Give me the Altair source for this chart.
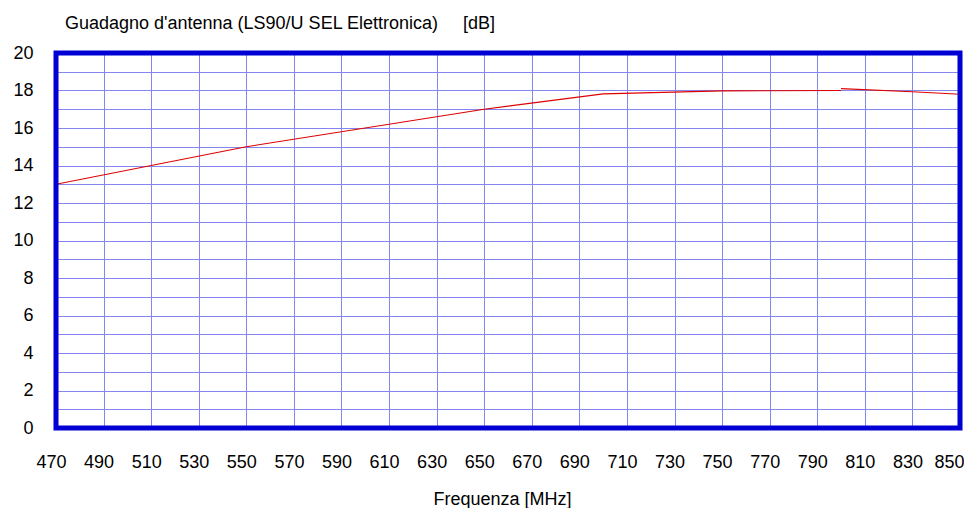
import altair as alt
import pandas as pd

# Series 1 (up to 800 MHz) and series 2 (800-850 MHz)
freq_a = [470, 550, 650, 700, 750, 800]
gain_a = [13.0, 15.0, 17.0, 17.82, 17.98, 18.0]
freq_b = [800, 830, 850]
gain_b = [18.1, 17.93, 17.8]

x_ticks = list(range(470, 851, 20))
y_ticks = list(range(0, 21))
x_domain = [470, 850]
y_domain = [0, 20]

title_main = "Guadagno d'antenna (LS90/U SEL Elettronica)"
title_unit = "[dB]"
x_title = "Frequenza  [MHz]"

FONT = "Liberation Sans"
GRID = "#8585f0"
BORDER = "#0000d4"

df = pd.DataFrame({
    "f": freq_a + freq_b,
    "g": gain_a + gain_b,
    "s": ["a"] * len(freq_a) + ["b"] * len(freq_b),
})
frame_df = pd.DataFrame({
    "f": [x_domain[0]], "f2": [x_domain[1]],
    "g": [y_domain[0]], "g2": [y_domain[1]],
})

x_scale = alt.Scale(domain=x_domain, nice=False, zero=False)
y_scale = alt.Scale(domain=y_domain, nice=False, zero=True)

x_axis = alt.Axis(
    values=x_ticks, grid=True, gridColor=GRID, gridWidth=1, gridOpacity=1,
    domain=False, ticks=False, tickSize=0,
    labelFont=FONT, labelFontSize=18, labelColor="black", labelPadding=39,
    labelBaseline="alphabetic", labelFlush=False, labelOverlap=False,
    labelOffset={"condition": {"test": "datum.value == 850", "value": -11}, "value": -5},
    title=x_title, titleFont=FONT, titleFontSize=18, titleFontWeight="normal",
    titleColor="black", titleX=446, titleY=76, titleAlign="center",
    titleBaseline="alphabetic",
)
y_axis = alt.Axis(
    values=y_ticks, grid=True, gridColor=GRID, gridWidth=1, gridOpacity=1,
    domain=False, ticks=False, tickSize=0,
    labelFont=FONT, labelFontSize=18, labelColor="black", labelPadding=23,
    labelFlush=False, labelOverlap=False,
    labelExpr="datum.value % 2 == 0 ? datum.label : ''",
    title=None,
)

line = alt.Chart(df).mark_line(color="#dd0000", strokeWidth=1.1, clip=True).encode(
    x=alt.X("f:Q", scale=x_scale, axis=x_axis),
    y=alt.Y("g:Q", scale=y_scale, axis=y_axis),
    detail="s:N",
)

frame = alt.Chart(frame_df).mark_rect(
    fill="transparent", stroke=BORDER, strokeWidth=5, clip=False
).encode(
    x=alt.X("f:Q", scale=x_scale, axis=x_axis), x2="f2:Q",
    y=alt.Y("g:Q", scale=y_scale, axis=y_axis), y2="g2:Q",
)

t1 = alt.Chart(pd.DataFrame({"t": [title_main]})).mark_text(
    align="left", baseline="alphabetic", font=FONT, fontSize=18, color="black"
).encode(x=alt.value(9), y=alt.value(-24), text="t:N")

t2 = alt.Chart(pd.DataFrame({"t": [title_unit]})).mark_text(
    align="left", baseline="alphabetic", font=FONT, fontSize=18, color="black"
).encode(x=alt.value(407), y=alt.value(-24), text="t:N")

chart = alt.layer(line, frame, t1, t2).properties(
    width=904, height=375,
    background="white",
    autosize=alt.AutoSizeParams(type="none"),
    padding={"left": 48, "top": 45, "right": 4, "bottom": 80},
).configure_view(
    stroke="transparent", strokeWidth=0, fill="white"
)

chart.save("out.html", embed_options={"renderer": "svg", "actions": False})
